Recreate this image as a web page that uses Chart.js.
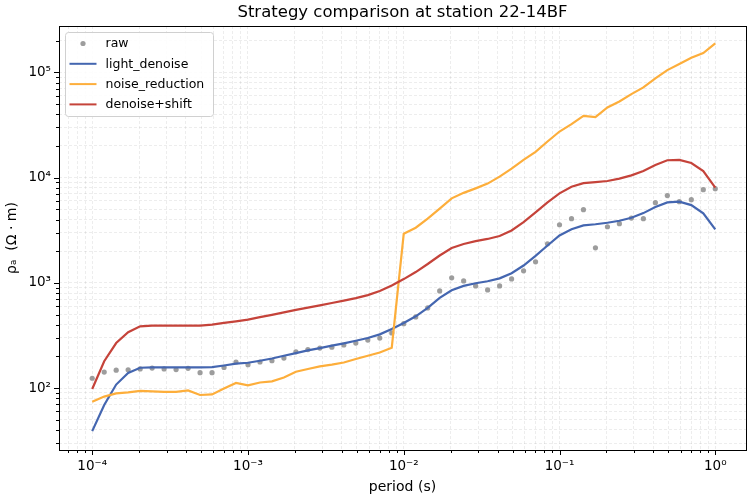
<!DOCTYPE html>
<html>
<head>
<meta charset="utf-8">
<script src="https://cdn.jsdelivr.net/npm/chart.js@4/dist/chart.umd.min.js"></script>
<style>
  body { margin: 0; background: #fff; }
  #wrap { width: 750px; height: 500px; }
</style>
</head>
<body>
<div id="wrap"><canvas id="grafico" width="750" height="500"></canvas></div>
<script>
// periodos (s), 13 por decada
const periodos = [
  1.000e-4, 1.194e-4, 1.425e-4, 1.701e-4, 2.031e-4, 2.424e-4, 2.894e-4, 3.455e-4, 4.125e-4, 4.924e-4, 5.878e-4, 7.017e-4, 8.377e-4,
  1.000e-3, 1.194e-3, 1.425e-3, 1.701e-3, 2.031e-3, 2.424e-3, 2.894e-3, 3.455e-3, 4.125e-3, 4.924e-3, 5.878e-3, 7.017e-3, 8.377e-3,
  1.000e-2, 1.194e-2, 1.425e-2, 1.701e-2, 2.031e-2, 2.424e-2, 2.894e-2, 3.455e-2, 4.125e-2, 4.924e-2, 5.878e-2, 7.017e-2, 8.377e-2,
  1.000e-1, 1.194e-1, 1.425e-1, 1.701e-1, 2.031e-1, 2.424e-1, 2.894e-1, 3.455e-1, 4.125e-1, 4.924e-1, 5.878e-1, 7.017e-1, 8.377e-1,
  1.0
];

const raw = [
  124, 142, 148, 149, 152, 155, 152, 150, 154, 140, 140, 157, 177,
  167, 177, 182, 193, 221, 232, 240, 245, 257, 268, 286, 299, 334,
  409, 474, 578, 839, 1117, 1044, 936, 857, 936, 1091, 1300, 1585, 2350,
  3565, 4075, 4955, 2150, 3412, 3648, 4123, 4075, 5780, 6745, 5906, 6166, 7690,
  7855
];

const lightDenoise = [
  39, 69, 108, 139, 156, 157, 157, 157, 157, 157, 158, 164, 171,
  174, 182, 191, 203, 215, 228, 240, 253, 266, 282, 299, 324, 364,
  416, 481, 578, 720, 851, 936, 991, 1035, 1104, 1234, 1462, 1807, 2265,
  2820, 3237, 3514, 3606, 3725, 3893, 4158, 4600, 5248, 5819, 5906, 5483, 4571,
  3221
];

const noiseReduction = [
  74, 83, 89, 91, 94, 93, 92, 92, 95, 86, 87, 99, 112,
  106, 113, 116, 126, 143, 152, 161, 167, 175, 189, 203, 218, 242,
  2931, 3342, 4074, 5070, 6353, 7164, 7906, 8770, 10230, 12190, 14720, 17540, 22030,
  27420, 32190, 38630, 37530, 46420, 52930, 62120, 71940, 87690, 105200, 120000, 137800, 152700,
  188700
];

const denoiseShift = [
  98, 180, 268, 340, 386, 392, 392, 392, 392, 392, 401, 416, 431,
  447, 472, 497, 524, 553, 582, 612, 643, 678, 716, 765, 836, 942,
  1086, 1267, 1511, 1820, 2144, 2342, 2490, 2614, 2791, 3148, 3770, 4673, 5819,
  7084, 8200, 8869, 9064, 9284, 9781, 10510, 11560, 13190, 14620, 14720, 13780, 11560,
  8035
];

const titulo = 'Strategy comparison at station 22-14BF';
const FUENTE = '"DejaVu Sans", sans-serif';

function puntos(valores) {
  return periodos.map((p, i) => ({ x: p, y: valores[i] }));
}

// ticks 1..9 x 10^n dentro del rango
function ticksLog(min, max) {
  const ticks = [];
  for (let e = Math.floor(Math.log10(min)); e <= Math.ceil(Math.log10(max)); e++) {
    for (let m = 1; m < 10; m++) {
      const v = m * Math.pow(10, e);
      if (v >= min && v <= max) ticks.push({ value: v, major: m === 1 });
    }
  }
  return ticks;
}

const SUP = { '-': '\u207b', '0': '\u2070', '1': '\u00b9', '2': '\u00b2', '3': '\u00b3', '4': '\u2074',
  '5': '\u2075', '6': '\u2076', '7': '\u2077', '8': '\u2078', '9': '\u2079' };

function etiquetaPotencia(value) {
  const e = Math.round(Math.log10(value));
  if (Math.abs(value - Math.pow(10, e)) > 1e-9 * value) return '';
  return '10' + String(e).split('').map(c => SUP[c]).join('');
}

// marco, marcas de ticks, titulo y leyenda al estilo matplotlib
const extras = {
  id: 'extras',
  afterDraw(chart) {
    const ctx = chart.ctx;
    const a = chart.chartArea;
    ctx.save();

    // marcas de ticks
    ctx.strokeStyle = '#000';
    ctx.lineWidth = 1;
    const xs = chart.scales.x, ys = chart.scales.y;
    xs.ticks.forEach(t => {
      const px = Math.round(xs.getPixelForValue(t.value)) + 0.5;
      const len = t.major ? 5 : 3;
      ctx.beginPath();
      ctx.moveTo(px, a.bottom);
      ctx.lineTo(px, a.bottom + len);
      ctx.stroke();
    });
    ys.ticks.forEach(t => {
      const py = Math.round(ys.getPixelForValue(t.value)) + 0.5;
      const len = t.major ? 5 : 3;
      ctx.beginPath();
      ctx.moveTo(a.left, py);
      ctx.lineTo(a.left - len, py);
      ctx.stroke();
    });

    // marco
    ctx.strokeRect(Math.round(a.left) + 0.5, Math.round(a.top) + 0.5,
      Math.round(a.right - a.left), Math.round(a.bottom - a.top));

    // titulo
    ctx.fillStyle = '#000';
    ctx.font = '16.5px ' + FUENTE;
    ctx.textAlign = 'center';
    ctx.textBaseline = 'middle';
    ctx.fillText(titulo, (a.left + a.right) / 2, 13);

    // leyenda
    const lx = a.left + 6.5, ly = a.top + 6.5, lw = 148, lh = 84;
    ctx.beginPath();
    ctx.roundRect(lx, ly, lw, lh, 3);
    ctx.fillStyle = 'rgba(255,255,255,0.85)';
    ctx.fill();
    ctx.strokeStyle = '#d0d0d0';
    ctx.stroke();
    ctx.font = '12.5px ' + FUENTE;
    ctx.textAlign = 'left';
    chart.data.datasets.forEach((ds, i) => {
      const cy = ly + 11 + i * 20.3;
      if (ds.showLine) {
        ctx.strokeStyle = ds.borderColor;
        ctx.lineWidth = 2;
        ctx.beginPath();
        ctx.moveTo(lx + 4, cy);
        ctx.lineTo(lx + 31, cy);
        ctx.stroke();
      } else {
        ctx.fillStyle = ds.pointBackgroundColor;
        ctx.beginPath();
        ctx.arc(lx + 17.5, cy, 2.6, 0, Math.PI * 2);
        ctx.fill();
      }
      ctx.fillStyle = '#000';
      ctx.fillText(ds.label, lx + 40, cy + 0.5);
    });
    ctx.restore();
  }
};

const ejeComun = {
  type: 'logarithmic',
  border: { display: false, dash: [3, 2] },
  grid: { color: 'rgba(0,0,0,0.09)', lineWidth: 0.8, tickLength: 5, tickColor: 'rgba(0,0,0,0)' },
  ticks: {
    autoSkip: false, maxRotation: 0, padding: 3, color: '#000',
    font: { family: FUENTE, size: 13.5 },
    callback: (value) => etiquetaPotencia(value)
  }
};

const ctx = document.getElementById('grafico').getContext('2d');
new Chart(ctx, {
  type: 'scatter',
  data: {
    datasets: [
      {
        label: 'raw', data: puntos(raw), showLine: false,
        pointRadius: 2.6, pointBackgroundColor: 'rgba(140,140,140,0.85)', pointBorderWidth: 0, order: 4
      },
      {
        label: 'light_denoise', data: puntos(lightDenoise), showLine: true,
        borderColor: '#4466b0', borderWidth: 2.2, pointRadius: 0, order: 3
      },
      {
        label: 'noise_reduction', data: puntos(noiseReduction), showLine: true,
        borderColor: '#fdae3b', borderWidth: 2.2, pointRadius: 0, order: 2
      },
      {
        label: 'denoise+shift', data: puntos(denoiseShift), showLine: true,
        borderColor: '#c5433a', borderWidth: 2.2, pointRadius: 0, order: 1
      }
    ]
  },
  options: {
    responsive: false,
    animation: false,
    layout: { padding: { left: 0, right: 4, top: 26, bottom: 0 } },
    plugins: { legend: { display: false }, title: { display: false }, tooltip: { enabled: false } },
    scales: {
      x: {
        ...ejeComun,
        min: 6.12e-5, max: 1.575,
        afterBuildTicks: (scale) => { scale.ticks = ticksLog(scale.min, scale.max); },
        afterFit: (scale) => { scale.height = 50; },
        title: { display: true, text: 'period (s)', color: '#000', padding: { top: 0, bottom: 4.5 },
          font: { family: FUENTE, size: 14 } }
      },
      y: {
        ...ejeComun,
        min: 25.8, max: 2.76e5,
        afterBuildTicks: (scale) => { scale.ticks = ticksLog(scale.min, scale.max); },
        afterFit: (scale) => { scale.width = 59; },
        title: { display: true, text: '\u03c1\u2090  (\u03a9 \u00b7 m)', color: '#000', padding: { top: 4, bottom: 0 },
          font: { family: FUENTE, size: 14 } }
      }
    }
  },
  plugins: [extras]
});
</script>
</body>
</html>
